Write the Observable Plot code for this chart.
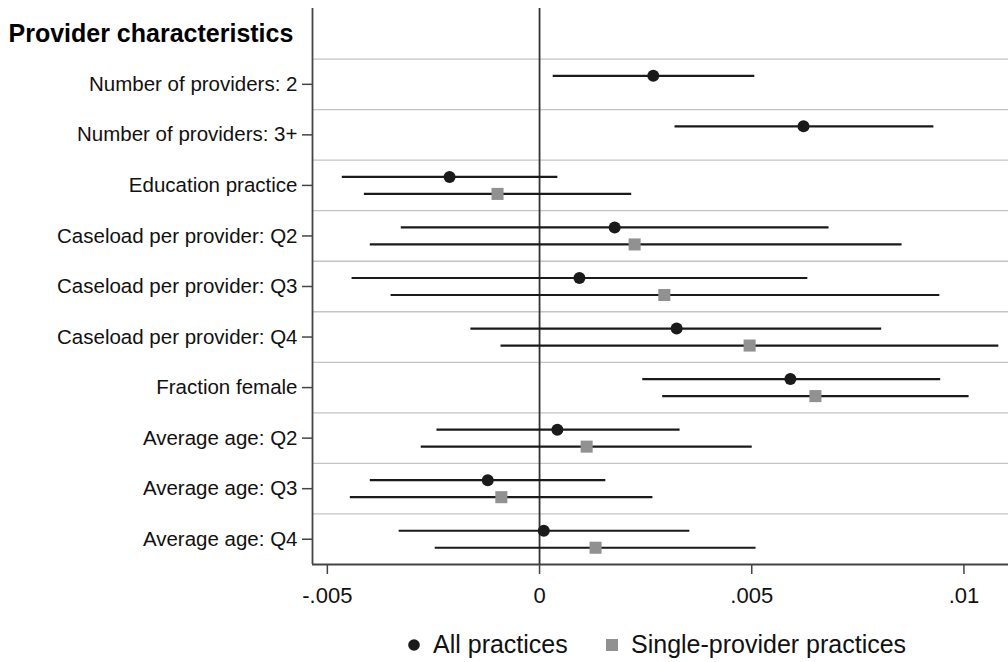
<!DOCTYPE html>
<html><head><meta charset="utf-8">
<script src="https://cdn.jsdelivr.net/npm/d3@7"></script>
<script src="https://cdn.jsdelivr.net/npm/@observablehq/plot@0.6"></script>
<style>
body{margin:0;background:#fff;font-family:"Liberation Sans",Arial,sans-serif;}
#legend{position:relative;height:42px;font-size:25px;color:#111;}
#legend .t{position:absolute;top:10px;white-space:nowrap;line-height:28px;}
#legend svg{position:absolute;top:17px;}
</style></head>
<body><div id="chart"></div>
<div id="legend">
<svg width="16" height="16" style="left:406px"><circle cx="8" cy="8" r="5.8" fill="#1a1a1a"/></svg>
<span class="t" style="left:433px">All practices</span>
<svg width="16" height="16" style="left:604px"><rect x="2" y="2" width="12" height="12" fill="#919191"/></svg>
<span class="t" style="left:631px">Single-provider practices</span>
</div>
<script>
const header = "Provider characteristics";
const categories = ["Number of providers: 2","Number of providers: 3+","Education practice","Caseload per provider: Q2","Caseload per provider: Q3","Caseload per provider: Q4","Fraction female","Average age: Q2","Average age: Q3","Average age: Q4"];
const allEst = [0.00268,0.00622,-0.00212,0.00177,0.00094,0.00323,0.00591,0.00042,-0.00122,0.00010];
const allLo  = [0.00031,0.00318,-0.00466,-0.00327,-0.00443,-0.00163,0.00242,-0.00243,-0.00400,-0.00332];
const allHi  = [0.00506,0.00928,0.00042,0.00681,0.00631,0.00805,0.00944,0.00330,0.00155,0.00353];
const singleEst = [null,null,-0.00099,0.00224,0.00294,0.00495,0.00650,0.00111,-0.00090,0.00132];
const singleLo  = [null,null,-0.00414,-0.00400,-0.00351,-0.00092,0.00289,-0.00280,-0.00447,-0.00247];
const singleHi  = [null,null,0.00216,0.00853,0.00942,0.01081,0.01011,0.00500,0.00266,0.00509];
const xTicks = [-0.005,0,0.005,0.01];

const all = categories.map((c,i)=>({row:i+1,est:allEst[i],lo:allLo[i],hi:allHi[i]}));
const single = categories.map((c,i)=>({row:i+1,est:singleEst[i],lo:singleLo[i],hi:singleHi[i]})).filter(d=>d.est!=null);
const xmin = -0.00535, xmax = 0.01105;
const fmt = d => d===0 ? "0" : d3.format(".3~f")(d).replace("\u2212","-").replace(/^(-?)0\./,"$1.");

const plot = Plot.plot({
  width:1008, height:620,
  marginLeft:312, marginRight:0, marginTop:8, marginBottom:56,
  style:{fontFamily:"Liberation Sans, Arial, sans-serif", color:"#111", background:"#fff"},
  x:{domain:[xmin,xmax]},
  y:{domain:[10.5,-0.5]},
  marks:[
    Plot.ruleY(d3.range(0.5,10,1),{stroke:"#c4c4c4",strokeWidth:1.3}),
    Plot.ruleX([0],{stroke:"#333",strokeWidth:1.8}),
    Plot.ruleX([xmin],{stroke:"#444",strokeWidth:1.8}),
    Plot.ruleY([10.5],{stroke:"#444",strokeWidth:1.8}),
    Plot.axisX({ticks:xTicks,tickFormat:fmt,tickSize:10,tickPadding:13,fontSize:22,label:null,stroke:"#444",strokeWidth:1.5}),
    Plot.axisY({ticks:d3.range(1,11),tickFormat:d=>categories[d-1],tickSize:10,tickPadding:5,fontSize:20.5,label:null,stroke:"#444",strokeWidth:1.5}),
    Plot.text([header],{y:0,frameAnchor:"left",dx:-304,textAnchor:"start",fontSize:25,fontWeight:"bold",fill:"#000"}),
    Plot.link(all,{x1:"lo",x2:"hi",y1:"row",y2:"row",dy:-8.5,stroke:"#1a1a1a",strokeWidth:2.2}),
    Plot.link(single,{x1:"lo",x2:"hi",y1:"row",y2:"row",dy:8.5,stroke:"#1a1a1a",strokeWidth:2.2}),
    Plot.dot(all,{x:"est",y:"row",dy:-8.5,r:6,fill:"#1a1a1a",stroke:null}),
    Plot.dot(single,{x:"est",y:"row",dy:8.5,r:6.8,symbol:"square",fill:"#919191",stroke:null})
  ]
});
document.getElementById("chart").appendChild(plot);
</script></body></html>
